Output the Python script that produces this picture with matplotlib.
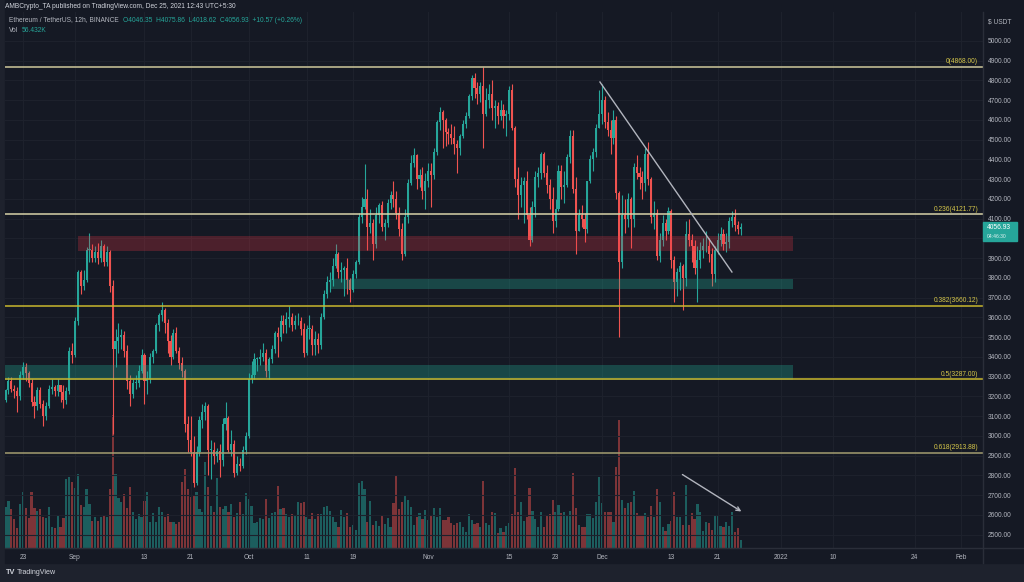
import matplotlib
matplotlib.use('Agg')
import matplotlib.pyplot as plt
import matplotlib.dates as mdates
from matplotlib.patches import Rectangle
from matplotlib.lines import Line2D
import numpy as np
import pandas as pd

# ETH/USDT 12h candles, Aug 20 2021 00:00 UTC .. Dec 25 2021 00:00 UTC
first_open = 3180
highs = [3240, 3300, 3300, 3260, 3250, 3330, 3375, 3370, 3330, 3290, 3200, 3250, 3250, 3180,
         3170, 3260, 3290, 3260, 3290, 3260, 3260, 3250, 3450, 3470,
         3600, 3840, 3840, 3840, 3955, 4027, 3970, 3960, 3975, 3990, 3970, 3960, 3940, 3790,
         3540, 3570, 3540, 3530, 3460, 3310, 3290, 3310, 3360, 3440, 3420, 3330, 3420, 3440,
         3570, 3620, 3680, 3650, 3590, 3510, 3540, 3550, 3450, 3400, 3340, 3100, 3100, 3000,
         2950, 3100, 3160, 3170, 3160, 2980, 2970, 2940, 2960, 3090, 3170, 3100, 3030, 2980,
         2900, 2890, 2950, 3020,
         3320, 3380, 3420, 3400, 3440, 3470, 3440, 3400, 3460, 3530, 3550, 3610, 3610, 3630,
         3660, 3620, 3610, 3620, 3600, 3570, 3560, 3610, 3560, 3530, 3520, 3620, 3740, 3810,
         3830, 3900, 3970, 3930, 3880, 3860, 3900, 3800, 3840, 3890, 4130, 4210, 4375, 4250,
         4150, 4100, 4160, 4180, 4190, 4100, 4200, 4240, 4290, 4240, 4160, 4080, 4150, 4300,
         4420, 4460, 4430, 4350, 4360, 4330,
         4380, 4380, 4460, 4600, 4665, 4650, 4610, 4560, 4580, 4570, 4500, 4530, 4600, 4640,
         4730, 4830, 4840, 4790, 4790, 4868, 4760, 4780, 4800, 4700, 4690, 4700, 4680, 4650,
         4770, 4780, 4570, 4360, 4310, 4310, 4340, 4160, 4190, 4340, 4360, 4440, 4440, 4370,
         4300, 4260, 4200, 4370, 4370, 4340, 4430, 4550, 4550, 4310, 4150, 4170, 4130, 4290,
         4420, 4460, 4580, 4750,
         4780, 4720, 4640, 4600, 4650, 4620, 4240, 4220, 4200, 4230, 4210, 4380, 4420, 4360,
         4340, 4460, 4490, 4310, 4190, 4150, 4030, 4120, 4100, 4160, 4150, 3910, 3850, 3880,
         3870, 4090, 4100, 4020, 3990, 3960, 3980, 4000, 4040, 4000, 3950, 3960, 4030, 4060,
         4050, 4030, 4110, 4140, 4150, 4090, 4075.86]
lows = [3170, 3210, 3220, 3190, 3120, 3180, 3290, 3280, 3250, 3150, 3090, 3130, 3140, 3050,
        3080, 3140, 3210, 3200, 3200, 3170, 3140, 3160, 3210, 3370,
        3400, 3560, 3720, 3740, 3780, 3880, 3880, 3880, 3870, 3880, 3860, 3860, 3730, 3010,
        3350, 3420, 3440, 3400, 3240, 3150, 3190, 3240, 3250, 3320, 3160, 3210, 3270, 3370,
        3420, 3530, 3580, 3520, 3420, 3360, 3390, 3420, 3340, 3300, 3020, 2920, 2900, 2740,
        2750, 2900, 3040, 3080, 2800, 2780, 2860, 2870, 2790, 2850, 3030, 2920, 2900, 2790,
        2800, 2820, 2840, 2910,
        2990, 3270, 3290, 3330, 3360, 3380, 3300, 3290, 3370, 3420, 3400, 3480, 3520, 3520,
        3550, 3530, 3540, 3560, 3510, 3400, 3410, 3490, 3410, 3410, 3420, 3440, 3590, 3700,
        3730, 3760, 3850, 3800, 3780, 3710, 3720, 3680, 3730, 3800, 3870, 4080, 4150, 3940,
        4030, 3890, 3950, 4080, 4040, 3990, 4060, 4150, 4160, 4100, 4010, 3890, 3910, 4080,
        4270, 4360, 4250, 4260, 4200, 4150,
        4260, 4160, 4300, 4420, 4550, 4460, 4470, 4480, 4480, 4430, 4330, 4420, 4510, 4560,
        4610, 4700, 4710, 4680, 4690, 4460, 4620, 4660, 4600, 4560, 4580, 4600, 4560, 4520,
        4600, 4550, 4260, 4100, 4160, 4080, 4100, 3960, 3980, 4110, 4260, 4300, 4310, 4230,
        4150, 4030, 4060, 4140, 4200, 4180, 4260, 4380, 4230, 3920, 4040, 4060, 3980, 4030,
        4280, 4340, 4410, 4560,
        4580, 4560, 4520, 4430, 4480, 4200, 3500, 3850, 4030, 4060, 3950, 4060, 4300, 4250,
        4200, 4240, 4270, 4080, 4050, 3890, 3880, 3960, 3990, 4020, 3850, 3680, 3710, 3740,
        3640, 3760, 3960, 3880, 3820, 3680, 3850, 3900, 3930, 3880, 3760, 3780, 3920, 3960,
        3940, 3930, 3950, 4060, 4040, 4020, 4018.62]
closes = [3230, 3280, 3240, 3225, 3200, 3310, 3350, 3320, 3270, 3170, 3150, 3230, 3160, 3100,
          3150, 3240, 3250, 3225, 3260, 3220, 3180, 3225, 3430, 3410,
          3580, 3830, 3760, 3790, 3940, 3940, 3900, 3930, 3900, 3960, 3880, 3930, 3760, 3440,
          3480, 3500, 3510, 3430, 3280, 3210, 3270, 3270, 3330, 3410, 3280, 3290, 3400, 3430,
          3560, 3610, 3640, 3570, 3480, 3400, 3520, 3430, 3370, 3330, 3060, 2980, 2920, 2760,
          2920, 3080, 3120, 3150, 2930, 2930, 2900, 2925, 2880, 3060, 3090, 2930, 2960, 2810,
          2860, 2850, 2930, 3000,
          3290, 3310, 3390, 3390, 3400, 3420, 3330, 3390, 3440, 3520, 3500, 3580, 3560, 3590,
          3600, 3560, 3580, 3580, 3540, 3420, 3540, 3540, 3460, 3490, 3460, 3600, 3720, 3780,
          3790, 3860, 3920, 3830, 3840, 3850, 3790, 3740, 3820, 3880, 4110, 4160, 4200, 4060,
          4080, 3970, 4120, 4170, 4060, 4080, 4180, 4220, 4200, 4130, 4050, 3920, 4110, 4280,
          4380, 4420, 4300, 4320, 4240, 4290,
          4340, 4320, 4440, 4590, 4640, 4600, 4540, 4530, 4510, 4480, 4460, 4520, 4580, 4620,
          4720, 4810, 4760, 4730, 4770, 4630, 4700, 4730, 4660, 4670, 4620, 4650, 4620, 4630,
          4750, 4560, 4300, 4220, 4270, 4290, 4120, 3990, 4160, 4310, 4330, 4430, 4330, 4270,
          4200, 4090, 4150, 4340, 4260, 4270, 4410, 4520, 4250, 4040, 4120, 4100, 4050, 4290,
          4400, 4440, 4560, 4630,
          4700, 4590, 4550, 4510, 4600, 4230, 3880, 4120, 4100, 4200, 4100, 4360, 4330, 4310,
          4280, 4430, 4300, 4110, 4130, 3910, 3990, 4080, 4040, 4140, 3890, 3780, 3830, 3860,
          3800, 4020, 3990, 3960, 3850, 3890, 3940, 3960, 3960, 3920, 3820, 3940, 3990, 4020,
          3970, 3980, 4090, 4110, 4070, 4046.35, 4056.93]
# volume in thousands of ETH
volumes = [290, 330, 270, 200, 140, 310, 390, 280, 210, 390, 280, 260, 270, 220, 210, 290,
           150, 140, 230, 150, 210, 480, 500, 460, 420, 520, 300, 290, 410, 310, 190, 220,
           190, 215, 225, 220, 410, 930, 520, 350, 320, 380, 280, 430, 255, 200, 235, 220,
           330, 390, 180, 245, 180, 290, 255, 220, 235, 180, 180, 165, 185, 465, 550, 410,
           360, 365, 390, 270, 250, 605, 430, 295, 255, 490, 290, 275, 295, 255, 310, 215,
           245, 325, 235, 385, 340, 295, 175, 180, 210, 200, 340, 210, 245, 255, 435, 270,
           280, 235, 220, 240, 230, 320, 315, 320, 215, 205, 245, 205, 240, 240, 285, 295,
           260, 215, 180, 150, 265, 215, 245, 150, 160, 125, 455, 470, 415, 180, 330, 160,
           190, 155, 230, 170, 210, 150, 315, 510, 275, 320, 370, 335, 285, 160, 215, 245,
           205, 265, 195, 230, 280, 215, 280, 195, 195, 215, 175, 160, 175, 180, 150, 110,
           240, 195, 170, 175, 145, 470, 175, 160, 250, 245, 105, 140, 110, 155, 175, 240,
           560, 250, 320, 190, 215, 420, 260, 205, 150, 250, 150, 230, 240, 335, 250, 300,
           245, 250, 230, 260, 525, 280, 160, 150, 150, 240, 240, 210, 320, 495, 315, 250,
           250, 250, 180, 565, 895, 335, 280, 315, 320, 400, 245, 225, 230, 245, 215, 295,
           215, 410, 320, 150, 120, 170, 190, 390, 215, 215, 160, 440, 160, 245, 205, 310,
           250, 120, 180, 175, 125, 225, 225, 155, 150, 180, 155, 250, 110, 140, 56]

fib_levels = [4868.00, 4121.77, 3660.12, 3287.00, 2913.88]
fib_names = ['0', '0.236', '0.382', '0.5', '0.618']
fib_colors = ['#cfc89c', '#d8d3a8', '#c9b72e', '#c9b72e', '#a49e70']

tick_dates = ['2021-08-23', '2021-09-01', '2021-09-13', '2021-09-21', '2021-10-01',
              '2021-10-11', '2021-10-19', '2021-11-01', '2021-11-15', '2021-11-23',
              '2021-12-01', '2021-12-13', '2021-12-21', '2022-01-01', '2022-01-10',
              '2022-01-24', '2022-02-01']
tick_labels = ['23', 'Sep', '13', '21', 'Oct', '11', '19', 'Nov', '15', '23', 'Dec',
               '13', '21', '2022', '10', '24', 'Feb']
last_price = 4056.93

W, H = 1024, 582
BG = '#151924'
GRID = '#1d212c'
TXT = '#b2b5be'
UP, DN = '#26a69a', '#ef5350'
UPV, DNV = '#1c5e5e', '#7d3438'
FS = 4.8
plt.rcParams['font.family'] = ['Liberation Sans', 'DejaVu Sans']


def fx(px):
    return px / W


def fy(py):
    return 1 - py / H


def price_fmt(v, pos):
    # the last-price tag (about -70..+26 around the price) covers this label
    if last_price - 70 < v < last_price + 26:
        return ''
    return '%.2f' % v


closes = np.array(closes, float)
opens = np.concatenate([[first_open], closes[:-1]])
highs = np.maximum(np.array(highs, float), np.maximum(opens, closes))
lows = np.minimum(np.array(lows, float), np.minimum(opens, closes))
up = closes >= opens
dates = pd.date_range('2021-08-20', periods=len(closes), freq='12h')
x = mdates.date2num(dates)

fig = plt.figure(figsize=(W / 100, H / 100), dpi=100, facecolor='#1e222d')
fig.add_artist(Rectangle((fx(5), fy(563)), 1 - fx(5), fy(0) - fy(563),
                         transform=fig.transFigure, color=BG, zorder=0))

# chart area: x 5..983, y 12..548 px
rect = [fx(5), fy(548), fx(983) - fx(5), fy(12) - fy(548)]
axv = fig.add_axes(rect)
axv.set_facecolor(BG)
ax = fig.add_axes(rect, sharex=axv)
ax.patch.set_alpha(0)

day_px = 5.79
sep1 = mdates.date2num(pd.Timestamp('2021-09-01'))
ax.set_xlim(sep1 - 70 / day_px, sep1 + 908 / day_px)
ax.set_ylim(2432.5, 5146.5)
axv.set_ylim(0, 536 * 7)

# volume
axv.bar(x, volumes, width=0.38, color=np.where(up, UPV, DNV), zorder=2)
axv.set_yticks([])
axv.tick_params(axis='x', labelbottom=False, length=0)
for s in axv.spines.values():
    s.set_visible(False)

# grid
ax.set_yticks(np.arange(2500, 5001, 100))
ax.set_xticks(mdates.date2num(pd.to_datetime(tick_dates)))
ax.set_xticklabels(tick_labels)
ax.grid(color=GRID, lw=0.8, zorder=0)
ax.set_axisbelow(True)
ax.yaxis.tick_right()
ax.yaxis.set_major_formatter(matplotlib.ticker.FuncFormatter(price_fmt))
ax.tick_params(axis='y', colors=TXT, labelsize=FS, length=0, pad=3.5)
ax.tick_params(axis='x', colors=TXT, labelsize=FS, length=0, pad=4)
for s in ax.spines.values():
    s.set_visible(False)

# zones
zone_end = mdates.date2num(pd.Timestamp('2022-01-03'))
ax.fill_between([mdates.date2num(pd.Timestamp('2021-09-01 11:00')), zone_end], 3936, 4012,
                color='#f23645', alpha=0.25, lw=0, zorder=6)
ax.fill_between([mdates.date2num(pd.Timestamp('2021-10-15')), zone_end], 3744, 3795,
                color='#22ab94', alpha=0.32, lw=0, zorder=6)
ax.fill_between([ax.get_xlim()[0], zone_end], 3283, 3359,
                color='#22ab94', alpha=0.32, lw=0, zorder=6)

# candles
cols = np.where(up, UP, DN)
ax.vlines(x, lows, highs, colors=cols, lw=0.8, zorder=4)
body = np.maximum(np.abs(closes - opens), 4)
ax.bar(x, body, bottom=np.minimum(opens, closes), width=0.36, color=cols, lw=0, zorder=5)

# fib levels
for lvl, name, c in zip(fib_levels, fib_names, fib_colors):
    ax.axhline(lvl, color=c, lw=1.1, zorder=7)
    ax.annotate('%s(%.2f)' % (name, lvl), xy=(0.995, lvl), xycoords=ax.get_yaxis_transform(),
                xytext=(0, 1.2), textcoords='offset points', ha='right', va='bottom',
                color='#d6c74a', fontsize=FS, zorder=8)

# trend line and volume arrow
ax.plot(mdates.date2num(pd.to_datetime(['2021-11-30 16:00', '2021-12-23 11:00'])),
        [4792, 3830], color=TXT, lw=1, zorder=8)
ax.annotate('', xy=(mdates.date2num(pd.Timestamp('2021-12-25 12:00')), 2610),
            xytext=(mdates.date2num(pd.Timestamp('2021-12-14 12:00')), 2812),
            arrowprops=dict(arrowstyle='->', color=TXT, lw=1, mutation_scale=7), zorder=8)

# separators
fig.add_artist(Line2D([fx(983), fx(983)], [fy(12), fy(563)], color='#2a2e39', lw=1))
fig.add_artist(Line2D([fx(5), 1], [fy(548), fy(548)], color='#2a2e39', lw=1))

# last price tag
fig.add_artist(Rectangle((fx(983), fy(241)), fx(34), fy(0) - fy(19),
                         transform=fig.transFigure, color=UP, zorder=5))
fig.text(fx(987), fy(227.5), '%.2f' % last_price, color='white', fontsize=FS, va='center',
         zorder=6)
fig.text(fx(987), fy(236), '04:46:30', color='#e0f2f1', fontsize=FS - 1.2, va='center', zorder=6)
fig.text(fx(988), fy(22), '$ USDT', color=TXT, fontsize=FS, va='center')

# header
fig.text(fx(5), fy(7), 'AMBCrypto_TA published on TradingView.com, Dec 25, 2021 12:43 UTC+5:30',
         color='#d1d4dc', fontsize=FS, va='center')
fig.text(fx(9), fy(20), 'Ethereum / TetherUS, 12h, BINANCE', color=TXT, fontsize=FS, va='center')
fig.text(fx(123), fy(20), 'O4046.35  H4075.86  L4018.62  C4056.93  +10.57 (+0.26%)',
         color=UP, fontsize=FS, va='center')
fig.text(fx(9), fy(31), 'Vol', color=TXT, fontsize=FS, va='center')
fig.text(fx(22), fy(31), '56.432K', color=UP, fontsize=FS, va='center')

# footer
fig.text(fx(6), fy(573), 'TV', color='#d1d4dc', fontsize=FS + 0.5, weight='bold', va='center')
fig.text(fx(17), fy(573), 'TradingView', color='#d1d4dc', fontsize=FS + 0.3, va='center')

fig.savefig('out.png', dpi=100, facecolor=fig.get_facecolor())
